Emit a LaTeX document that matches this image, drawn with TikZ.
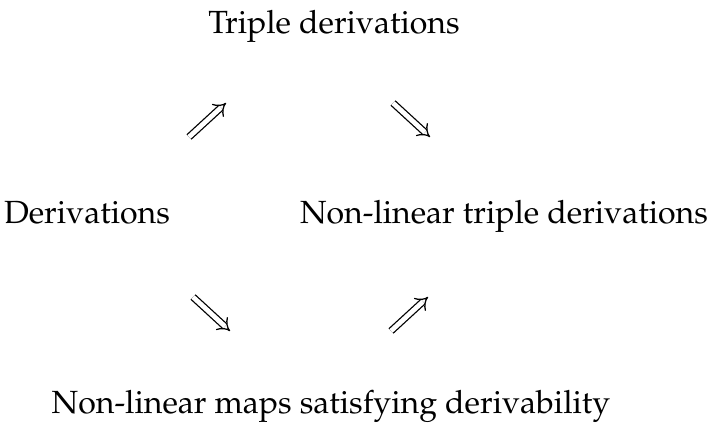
\documentclass[tikz,border=0pt]{standalone}
\usepackage[T1]{fontenc}
\usepackage{mathpazo}
\usetikzlibrary{arrows.meta}

\begin{document}
\begin{tikzpicture}[
  x=0.025cm, y=-0.025cm,
  lbl/.style={anchor=base, inner sep=0pt, font=\fontsize{22.8}{27}\selectfont},
  impl/.style={double, double distance=3.4pt, line width=0.9pt,
               -{Implies[length=7pt]}},
]
\useasboundingbox (0,0) rectangle (710,425);
% --- statements ---
\node[lbl] (trip) at (334,34) {Triple derivations};
\node[lbl] (der) at (87,224) {Derivations};
\node[lbl] (nltrip) at (504,224) {Non-linear triple derivations};
\node[lbl] (nlmap) at (331,414) {Non-linear maps satisfying derivability};
% --- arrow ends ---
\coordinate (a1) at (189,137);
\coordinate (b1) at (226,103);
\coordinate (a2) at (393,103);
\coordinate (b2) at (430,137);
\coordinate (a3) at (193,297);
\coordinate (b3) at (230,331);
\coordinate (a4) at (391,331);
\coordinate (b4) at (428,297);
% --- implications ---
\draw[impl] (a1) -- (b1);
\draw[impl] (a2) -- (b2);
\draw[impl] (a3) -- (b3);
\draw[impl] (a4) -- (b4);
\end{tikzpicture}
\end{document}
